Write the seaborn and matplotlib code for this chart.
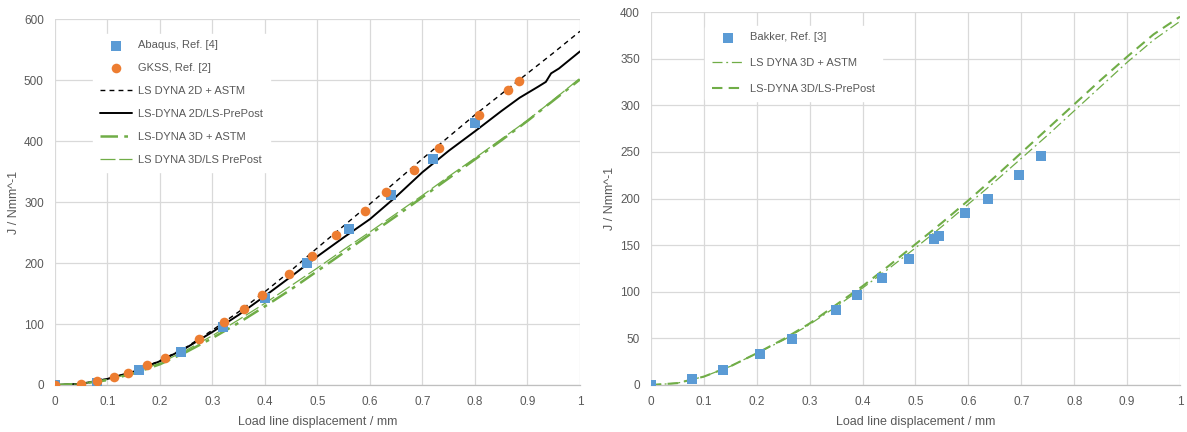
import numpy as np
import pandas as pd
import matplotlib
matplotlib.use("Agg")
import matplotlib.pyplot as plt
import seaborn as sns

# ---- data: left panel (2D and 3D simulations vs. references) ----
abaqus_x = [0.0, 0.08, 0.16, 0.24, 0.32, 0.40, 0.48, 0.56, 0.64, 0.72, 0.80]
abaqus_j = [0, 3, 25, 54, 95, 143, 200, 256, 312, 371, 429]

gkss_x = [0.0, 0.05, 0.08, 0.112, 0.14, 0.175, 0.21, 0.275, 0.322, 0.36, 0.395,
          0.445, 0.49, 0.535, 0.59, 0.63, 0.683, 0.731, 0.808, 0.862, 0.884]
gkss_j = [0, 2, 6, 13, 20, 32, 45, 76, 103, 124, 148,
          182, 211, 246, 285, 316, 353, 388, 443, 483, 498]

d2_astm_x = [0.0, 0.05, 0.1, 0.15, 0.2, 0.25, 0.3, 0.35, 0.4, 0.45, 0.5,
             0.55, 0.6, 0.65, 0.7, 0.75, 0.8, 0.85, 0.9, 0.95, 1.0]
d2_astm_j = [0, 2, 10, 22, 40, 62, 90, 120, 153, 188, 225,
             261, 297, 334, 371, 407, 443, 477, 511, 545, 580]

d2_pp_x = [0.0, 0.05, 0.1, 0.15, 0.2, 0.25, 0.3, 0.35, 0.4, 0.45, 0.5,
           0.55, 0.6, 0.65, 0.7, 0.75, 0.8, 0.85, 0.885, 0.92, 0.935,
           0.945, 0.96, 1.0]
d2_pp_j = [0, 2, 10, 22, 39, 61, 87, 115, 146, 178, 211,
           242, 272, 309, 349, 384, 416, 449, 471, 489, 497,
           511, 519, 547]

d3_astm_x = [0.0, 0.05, 0.1, 0.15, 0.2, 0.25, 0.3, 0.35, 0.4, 0.45, 0.5,
             0.55, 0.6, 0.65, 0.7, 0.75, 0.8, 0.85, 0.9, 0.95, 1.0]
d3_astm_j = [0, 2, 8, 19, 34, 54, 77, 102, 129, 157, 187,
             217, 247, 277, 308, 339, 370, 401, 433, 467, 501]

d3_pp_x = [0.0, 0.05, 0.1, 0.15, 0.2, 0.25, 0.3, 0.35, 0.4, 0.45, 0.5,
           0.55, 0.6, 0.65, 0.7, 0.75, 0.8, 0.85, 0.9, 0.95, 1.0]
d3_pp_j = [0, 2, 9, 20, 36, 57, 81, 107, 134, 163, 192,
           222, 251, 281, 311, 342, 372, 403, 434, 468, 503]

# ---- data: right panel (3D simulations vs. Bakker) ----
bakker_x = [0.0, 0.078, 0.136, 0.206, 0.267, 0.35, 0.39, 0.436, 0.487,
            0.535, 0.544, 0.593, 0.638, 0.695, 0.738]
bakker_j = [0, 6, 16, 33, 49, 80, 97, 115, 135, 157, 160, 184, 200, 225, 246]

r_astm_x = [0.0, 0.05, 0.1, 0.15, 0.2, 0.25, 0.3, 0.35, 0.4, 0.45, 0.5,
            0.55, 0.6, 0.65, 0.7, 0.75, 0.8, 0.85, 0.9, 0.95, 1.0]
r_astm_j = [0, 2, 9, 20, 34, 48, 65, 84, 104, 125, 147,
            170, 194, 218, 243, 268, 294, 320, 346, 370, 390]

r_pp_x = [0.0, 0.05, 0.1, 0.15, 0.2, 0.25, 0.3, 0.35, 0.4, 0.45, 0.5,
          0.55, 0.6, 0.65, 0.7, 0.75, 0.8, 0.85, 0.9, 0.95, 1.0]
r_pp_j = [0, 2, 9, 20, 34, 49, 66, 86, 106, 128, 151,
          174, 198, 223, 249, 275, 301, 327, 352, 376, 395]

x_ticks = [0, 0.1, 0.2, 0.3, 0.4, 0.5, 0.6, 0.7, 0.8, 0.9, 1.0]
x_tick_labels = ["0", "0.1", "0.2", "0.3", "0.4", "0.5", "0.6", "0.7", "0.8", "0.9", "1"]
left_y_ticks = [0, 100, 200, 300, 400, 500, 600]
right_y_ticks = [0, 50, 100, 150, 200, 250, 300, 350, 400]

x_label = "Load line displacement / mm"
y_label = "J / Nmm^-1"

BLUE = "#5B9BD5"
ORANGE = "#ED7D31"
GREEN = "#70AD47"
GRID = "#D9D9D9"
TEXT = "#595959"

sns.set_style("white")
plt.rcParams["font.family"] = ["Liberation Sans", "DejaVu Sans"]

fig = plt.figure(figsize=(11.87, 4.32), dpi=100)
ax1 = fig.add_axes([0.0463, 0.1088, 0.4423, 0.847])
ax2 = fig.add_axes([0.5484, 0.1088, 0.4457, 0.8634])


def frame(ax, yticks):
    ax.set_xlim(0, 1)
    ax.set_ylim(yticks[0], yticks[-1])
    ax.set_xticks(x_ticks)
    ax.set_xticklabels(x_tick_labels)
    ax.set_yticks(yticks)
    ax.grid(True, color=GRID, linewidth=0.9)
    ax.set_axisbelow(True)
    for side in ["top", "right", "left"]:
        ax.spines[side].set_visible(False)
    ax.spines["bottom"].set_color("#BFBFBF")
    ax.spines["bottom"].set_linewidth(0.9)
    ax.tick_params(axis="y", length=0, labelsize=8.5, colors=TEXT, pad=8)
    ax.tick_params(axis="x", length=0, labelsize=8.5, colors=TEXT, pad=8)
    ax.set_xlabel(x_label, fontsize=9, color=TEXT, labelpad=6)
    ax.set_ylabel(y_label, fontsize=9, color=TEXT, labelpad=3)


def line(ax, xs, ys, label, color, lw, dashes):
    df = pd.DataFrame({"x": xs, "j": ys})
    sns.lineplot(data=df, x="x", y="j", ax=ax, color=color, linewidth=lw,
                 label=label, sort=False, estimator=None, zorder=3)
    ln = ax.get_lines()[-1]
    if dashes is not None:
        ln.set_dashes(dashes)
    return ln


def points(ax, xs, ys, label, color, marker):
    df = pd.DataFrame({"x": xs, "j": ys})
    sns.scatterplot(data=df, x="x", y="j", ax=ax, color=color, marker=marker,
                    s=48, linewidth=0, label=label, zorder=4)


def style_legend(leg):
    fr = leg.get_frame()
    fr.set_facecolor("white")
    fr.set_edgecolor("white")
    fr.set_alpha(1)


# left panel
frame(ax1, left_y_ticks)
line(ax1, d2_astm_x, d2_astm_j, "LS DYNA 2D + ASTM", "black", 1.0, (3.5, 3))
line(ax1, d2_pp_x, d2_pp_j, "LS-DYNA 2D/LS-PrePost", "black", 1.4, None)
line(ax1, d3_astm_x, d3_astm_j, "LS-DYNA 3D + ASTM", GREEN, 1.8, (7, 2.5, 1.5, 2.5))
line(ax1, d3_pp_x, d3_pp_j, "LS DYNA 3D/LS PrePost", GREEN, 0.9, (12, 3))
points(ax1, abaqus_x, abaqus_j, "Abaqus, Ref. [4]", BLUE, "s")
points(ax1, gkss_x, gkss_j, "GKSS, Ref. [2]", ORANGE, "o")

h, l = ax1.get_legend_handles_labels()
order = [4, 5, 0, 1, 2, 3]
leg1 = ax1.legend([h[i] for i in order], [l[i] for i in order],
                  loc="upper left", bbox_to_anchor=(0.062, 0.975),
                  frameon=True, fontsize=8, labelspacing=1.16,
                  handlelength=2.9, handletextpad=0.55, borderpad=0.6,
                  labelcolor=TEXT)
style_legend(leg1)

# right panel
frame(ax2, right_y_ticks)
line(ax2, r_astm_x, r_astm_j, "LS DYNA 3D + ASTM", GREEN, 0.9, (8, 3, 1.5, 3))
line(ax2, r_pp_x, r_pp_j, "LS-DYNA 3D/LS-PrePost", GREEN, 1.5, (5, 3))
points(ax2, bakker_x, bakker_j, "Bakker, Ref. [3]", BLUE, "s")

h, l = ax2.get_legend_handles_labels()
order = [2, 0, 1]
leg2 = ax2.legend([h[i] for i in order], [l[i] for i in order],
                  loc="upper left", bbox_to_anchor=(0.092, 0.978),
                  frameon=True, fontsize=8, labelspacing=1.42,
                  handlelength=2.9, handletextpad=0.55, borderpad=0.6,
                  labelcolor=TEXT)
style_legend(leg2)

fig.savefig("out.png", dpi=100, facecolor="white")
